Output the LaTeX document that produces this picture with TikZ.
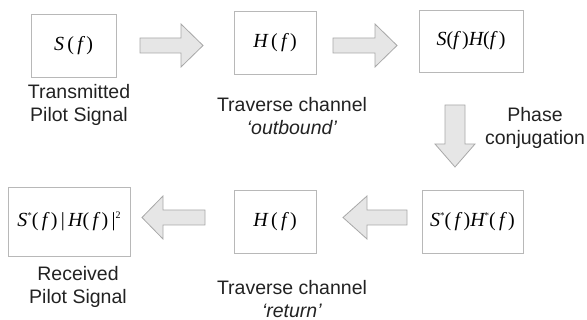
\documentclass[tikz,border=0pt]{standalone}
\usepackage{fontspec}
\setmainfont{Liberation Sans}
\newfontfamily\tms{Liberation Serif}
\newcommand{\mi}[1]{{\itshape #1}}
\newcommand{\sstar}{\raisebox{0.42em}{\fontsize{9}{9}\selectfont *}}
\newcommand{\sqrtwo}{\raisebox{0.42em}{\fontsize{10}{10}\selectfont 2}}
\newcommand{\rarrow}[4]{% tail, head base, tip, y centre
  \draw[blk] (#1,#4-7.5) -- (#2,#4-7.5) -- (#2,#4-21.5) -- (#3,#4) -- (#2,#4+21.5) -- (#2,#4+7.5) -- (#1,#4+7.5) -- cycle;}
\newcommand{\darrow}[4]{% top, head base, tip, x centre
  \draw[blk] (#4-10,#1) -- (#4-10,#2) -- (#4-20,#2) -- (#4,#3) -- (#4+20,#2) -- (#4+10,#2) -- (#4+10,#1) -- cycle;}
\definecolor{boxgray}{HTML}{B8B8B8}
\definecolor{arrgray}{HTML}{A8A8A8}
\definecolor{arrfill}{HTML}{E6E6E6}
\definecolor{txt}{HTML}{222222}
\begin{document}
\begin{tikzpicture}[x=1pt,y=-1pt,
  box/.style={draw=boxgray,line width=0.9pt,fill=white,inner sep=0pt,
    font=\tms\fontsize{20}{24}\selectfont},
  blk/.style={draw=arrgray,fill=arrfill,line width=0.8pt,line join=miter},
  lbl/.style={font=\fontsize{19.5}{23}\selectfont,align=center,text=txt,inner sep=0pt}]
\useasboundingbox (0,0) rectangle (587,320);
% boxes
\node[box,minimum width=85pt,minimum height=63pt] (b1) at (73.5,45.5) {\mi{S}\,(\,\mi{f}\,)};
\node[box,minimum width=82pt,minimum height=63pt] (b2) at (275,42.5) {\mi{H}\,(\,\mi{f}\,)};
\node[box,minimum width=104pt,minimum height=62pt] (b3) at (471,41) {\mi{S}(\mi{f}\,)\mi{H}(\mi{f}\,)};
\node[box,minimum width=101pt,minimum height=63pt] (b4) at (472.5,221.5) {\mi{S}\sstar(\,\mi{f}\,)\mi{H}\sstar(\,\mi{f}\,)};
\node[box,minimum width=122pt,minimum height=69pt] (b6) at (69,221.5) {\mi{S}\sstar(\,\mi{f}\,)\,|\,\mi{H}(\,\mi{f}\,)\,|\sqrtwo};
\node[box,minimum width=82pt,minimum height=63pt] (b5) at (275,221.5) {\mi{H}\,(\,\mi{f}\,)};
% block arrows
\rarrow{140}{181}{203}{45.5}
\rarrow{333}{375}{397}{45.5}
\darrow{105}{144}{167}{455}
\rarrow{407}{367}{343}{217.5}
\rarrow{205}{163}{142}{217.5}
% labels
\node[lbl] (l1) at (79,105) {Transmitted\\Pilot Signal};
\node[lbl] (l2) at (292,116) {Traverse channel\\\textit{‘outbound’}};
\node[lbl] (l3) at (535,128) {Phase\\conjugation};
\node[lbl] (l4) at (78,287) {Received\\Pilot Signal};
\node[lbl] (l5) at (292,299) {Traverse channel\\\textit{‘return’}};
\end{tikzpicture}
\end{document}
